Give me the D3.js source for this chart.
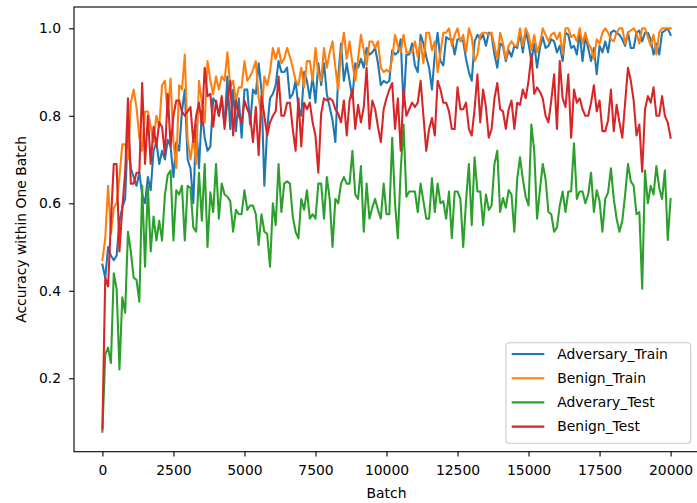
<!DOCTYPE html>
<html>
<head>
<meta charset="utf-8">
<script src="https://cdn.jsdelivr.net/npm/d3@7"></script>
<style>
  html, body { margin: 0; padding: 0; background: #fff; }
  svg { display: block; font-family: "DejaVu Sans", sans-serif; }
</style>
</head>
<body>
<svg id="chart" width="697" height="503"></svg>
<script>
// ---- data ----
const batchStep = 100;
const seriesNames = ["Adversary_Train", "Benign_Train", "Adverary_Test", "Benign_Test"];
const seriesColors = ["#1f77b4", "#ff7f0e", "#2ca02c", "#d62728"];
const xTicks = [0, 2500, 5000, 7500, 10000, 12500, 15000, 17500, 20000];
const yTicks = [0.2, 0.4, 0.6, 0.8, 1.0];

const adversaryTrain = [
  0.46, 0.43, 0.50, 0.48, 0.47, 0.48, 0.56, 0.59, 0.61, 0.77, 0.68, 0.66, 0.64, 0.67, 0.62, 0.60, 0.66, 0.63, 0.72, 0.74, 0.69, 0.72, 0.70, 0.745, 0.73, 0.66, 0.74, 0.72, 0.81, 0.86,
  0.70, 0.68, 0.60, 0.78, 0.68, 0.81, 0.75, 0.72, 0.73, 0.84, 0.83, 0.80, 0.84, 0.78, 0.89, 0.77, 0.86, 0.765, 0.84, 0.75, 0.86, 0.86, 0.78, 0.86, 0.85, 0.92, 0.86, 0.64, 0.77, 0.84, 0.85, 0.87, 0.925, 0.90, 0.90,
  0.91, 0.84, 0.85, 0.88, 0.82, 0.80, 0.90, 0.88, 0.84, 0.89, 0.83, 0.92, 0.87, 0.92, 0.85, 0.82, 0.79, 0.74, 0.89, 0.965, 0.88, 0.92, 0.88, 0.84, 0.92, 0.91, 0.93, 0.91, 0.955, 0.94, 0.945, 0.955, 0.92, 0.87, 0.88,
  0.875, 0.88, 0.95, 0.94, 0.945, 0.975, 0.82, 0.94, 0.94, 0.965, 0.915, 0.90, 0.985, 0.965, 0.935, 0.91, 0.86, 0.94, 0.99, 0.925, 0.915, 0.98, 0.975, 0.975, 0.94, 0.975, 0.975, 0.97, 0.93, 0.90, 0.88, 0.97, 0.985, 0.975,
  0.985, 0.96, 0.99, 0.985, 0.94, 0.91, 0.965, 0.96, 0.925, 0.95, 0.935, 0.96, 0.955, 0.99, 0.945, 0.995, 0.965, 0.925, 0.965, 0.91, 0.955, 0.98, 0.955, 0.96, 0.975, 0.97, 0.945, 0.96, 0.925, 0.99, 0.985, 0.955, 0.96, 0.94,
  0.99, 0.925, 0.98, 0.955, 0.925, 0.955, 0.895, 0.96, 0.945, 0.97, 0.945, 0.99, 0.995, 0.99, 0.985, 0.975, 0.96, 0.99, 0.955, 0.955, 0.99, 0.995, 0.97, 0.99, 0.99, 0.975, 0.94, 0.965, 0.94, 0.99, 0.995, 1.0, 0.985
];

const benignTrain = [
  0.47, 0.52, 0.64, 0.53, 0.59, 0.60, 0.66, 0.735, 0.735, 0.70, 0.83, 0.86, 0.82, 0.75, 0.72, 0.81, 0.81, 0.775, 0.74, 0.80, 0.775, 0.87, 0.88, 0.80, 0.885, 0.74, 0.68, 0.87, 0.86, 0.94,
  0.745, 0.70, 0.75, 0.69, 0.88, 0.83, 0.785, 0.925, 0.88, 0.85, 0.89, 0.86, 0.89, 0.88, 0.945, 0.865, 0.88, 0.835, 0.865, 0.865, 0.925, 0.88, 0.89, 0.905, 0.925, 0.84, 0.80, 0.89, 0.87, 0.90, 0.955, 0.93, 0.955, 0.92, 0.93,
  0.955, 0.935, 0.91, 0.88, 0.87, 0.91, 0.865, 0.925, 0.925, 0.88, 0.955, 0.895, 0.88, 0.955, 0.91, 0.945, 0.97, 0.91, 0.86, 0.945, 0.99, 0.93, 0.97, 0.92, 0.88, 0.93, 0.985, 0.95, 0.915, 0.97, 0.97, 0.955, 0.97, 0.91, 0.90,
  0.905, 0.90, 0.93, 0.985, 0.96, 0.945, 0.985, 0.945, 0.945, 0.945, 0.97, 0.935, 0.97, 0.92, 0.99, 0.99, 0.95, 0.97, 0.90, 0.945, 0.99, 0.99, 1.0, 0.96, 0.985, 1.0, 0.97, 0.985, 0.945, 1.0, 0.98, 0.925, 0.94, 0.985,
  0.99, 0.99, 0.985, 0.99, 0.96, 0.93, 0.99, 0.965, 0.93, 0.96, 0.97, 0.96, 0.96, 1.0, 0.96, 1.0, 0.985, 0.95, 0.985, 0.945, 0.965, 1.0, 0.985, 0.97, 0.985, 0.99, 0.975, 0.99, 0.94, 1.0, 1.0, 0.98, 0.985, 0.97,
  1.0, 0.965, 0.99, 0.965, 0.955, 0.93, 0.975, 0.965, 0.99, 1.0, 0.99, 0.975, 0.97, 0.99, 1.0, 1.0, 0.965, 0.99, 0.995, 1.0, 0.99, 0.965, 1.0, 1.0, 0.98, 0.96, 0.985, 0.94, 0.99, 1.0, 1.0, 1.0, 1.0
];

const adveraryTest = [
  0.078, 0.255, 0.27, 0.235, 0.44, 0.405, 0.22, 0.385, 0.35, 0.535, 0.49, 0.43, 0.425, 0.375, 0.64, 0.455, 0.64, 0.49, 0.57, 0.515, 0.56, 0.515, 0.62, 0.665, 0.675, 0.515, 0.63, 0.62, 0.64, 0.515, 0.64, 0.635, 0.545, 0.535, 0.67, 0.56,
  0.69, 0.50, 0.625, 0.58, 0.69, 0.565, 0.645, 0.62, 0.615, 0.605, 0.535, 0.585, 0.575, 0.575, 0.63, 0.585, 0.595, 0.595, 0.575, 0.505, 0.575, 0.535, 0.53, 0.455, 0.60, 0.55, 0.69, 0.58, 0.645,
  0.65, 0.645, 0.57, 0.535, 0.52, 0.61, 0.585, 0.63, 0.565, 0.575, 0.565, 0.645, 0.645, 0.565, 0.66, 0.61, 0.50, 0.61, 0.60, 0.645, 0.66, 0.645, 0.645, 0.72, 0.62, 0.61, 0.685, 0.535, 0.645, 0.565, 0.59, 0.61, 0.585, 0.565, 0.645,
  0.575, 0.575, 0.75, 0.60, 0.52, 0.675, 0.78, 0.615, 0.627, 0.627, 0.627, 0.58, 0.645, 0.605, 0.565, 0.565, 0.657, 0.58, 0.645, 0.60, 0.605, 0.565, 0.627, 0.52, 0.627, 0.627, 0.61, 0.50, 0.605, 0.69, 0.55, 0.705, 0.627, 0.627,
  0.55, 0.62, 0.585, 0.595, 0.69, 0.72, 0.58, 0.612, 0.59, 0.63, 0.62, 0.535, 0.655, 0.705, 0.655, 0.615, 0.595, 0.78, 0.72, 0.565, 0.63, 0.69, 0.655, 0.58, 0.575, 0.535, 0.545, 0.595, 0.627, 0.58, 0.627, 0.627, 0.737, 0.61, 0.627,
  0.627, 0.60, 0.62, 0.67, 0.58, 0.63, 0.605, 0.535, 0.61, 0.625, 0.68, 0.61, 0.565, 0.535, 0.56, 0.62, 0.69, 0.65, 0.64, 0.575, 0.58, 0.405, 0.675, 0.60, 0.64, 0.62, 0.685, 0.635, 0.61, 0.675, 0.516, 0.61
];

const benignTest = [
  0.085, 0.43, 0.41, 0.56, 0.69, 0.69, 0.49, 0.59, 0.67, 0.84, 0.645, 0.645, 0.67, 0.67, 0.875, 0.69, 0.80, 0.69, 0.775, 0.73, 0.785, 0.775, 0.71, 0.85, 0.73, 0.80, 0.835, 0.835,
  0.81, 0.80, 0.81, 0.82, 0.74, 0.80, 0.83, 0.78, 0.91, 0.845, 0.85, 0.775, 0.835, 0.80, 0.845, 0.77, 0.835, 0.88, 0.755, 0.835, 0.80, 0.785, 0.835, 0.815, 0.80, 0.74, 0.82, 0.71, 0.845, 0.80, 0.755, 0.785, 0.80, 0.81, 0.89, 0.80, 0.80,
  0.83, 0.83, 0.77, 0.72, 0.84, 0.73, 0.83, 0.815, 0.83, 0.785, 0.755, 0.67, 0.805, 0.84, 0.835, 0.84, 0.835, 0.815, 0.805, 0.785, 0.835, 0.755, 0.835, 0.86, 0.77, 0.825, 0.785, 0.82, 0.91, 0.77, 0.835, 0.815, 0.775, 0.74, 0.815,
  0.84, 0.86, 0.875, 0.77, 0.84, 0.72, 0.86, 0.80, 0.815, 0.83, 0.82, 0.83, 0.88, 0.80, 0.72, 0.77, 0.795, 0.755, 0.88, 0.86, 0.83, 0.83, 0.81, 0.77, 0.77, 0.865, 0.815, 0.815, 0.83, 0.77, 0.755, 0.815, 0.895, 0.785,
  0.86, 0.82, 0.75, 0.77, 0.84, 0.875, 0.815, 0.81, 0.77, 0.815, 0.835, 0.77, 0.83, 0.825, 0.86, 0.84, 0.88, 0.94, 0.85, 0.865, 0.855, 0.84, 0.80, 0.785, 0.835, 0.895, 0.77, 0.925, 0.84, 0.82, 0.895, 0.75, 0.86, 0.83, 0.84,
  0.815, 0.80, 0.80, 0.83, 0.87, 0.81, 0.835, 0.765, 0.765, 0.79, 0.86, 0.765, 0.825, 0.785, 0.75, 0.83, 0.91, 0.88, 0.835, 0.755, 0.78, 0.672, 0.815, 0.845, 0.83, 0.865, 0.80, 0.80, 0.845, 0.80, 0.785, 0.75
];

const seriesValues = [adversaryTrain, benignTrain, adveraryTest, benignTest];

// ---- layout ----
const W = 697, H = 503;
const plot = { left: 74, top: 7, right: 699, bottom: 451.7 };
const svg = d3.select("#chart");

const x = d3.scaleLinear().domain([-1000, 21000]).range([plot.left, plot.right]);
const y = d3.scaleLinear().domain([0.0322, 1.0487]).range([plot.bottom, plot.top]);

const textColor = "#000";
const fontSize = 13.9;

// lines
const line = d3.line()
  .x((d, i) => x(i * batchStep))
  .y(d => y(d));

const lineG = svg.append("g");
seriesValues.forEach((vals, k) => {
  lineG.append("path")
    .datum(vals)
    .attr("fill", "none")
    .attr("stroke", seriesColors[k])
    .attr("stroke-width", 2.08)
    .attr("stroke-linejoin", "round")
    .attr("stroke-linecap", "square")
    .attr("d", line);
});

// axes
const xAxis = d3.axisBottom(x).tickValues(xTicks).tickFormat(d3.format("d"))
  .tickSizeOuter(0).tickSizeInner(4.9).tickPadding(8.5);
const yAxis = d3.axisLeft(y).tickValues(yTicks).tickFormat(d3.format(".1f"))
  .tickSizeOuter(0).tickSizeInner(4.9).tickPadding(8);

const gx = svg.append("g").attr("transform", `translate(0,${plot.bottom})`).call(xAxis);
const gy = svg.append("g").attr("transform", `translate(${plot.left},0)`).call(yAxis);
[gx, gy].forEach(g => {
  g.select(".domain").remove();
  g.selectAll(".tick line").attr("stroke", textColor).attr("stroke-width", 1.1);
  g.selectAll(".tick text").attr("fill", textColor)
    .style("font-family", "DejaVu Sans").style("font-size", fontSize + "px");
});

// spines
svg.append("rect")
  .attr("x", plot.left).attr("y", plot.top)
  .attr("width", plot.right - plot.left).attr("height", plot.bottom - plot.top)
  .attr("fill", "none").attr("stroke", textColor).attr("stroke-width", 1.1);

// axis labels
svg.append("text")
  .attr("x", (plot.left + plot.right) / 2).attr("y", 498)
  .attr("text-anchor", "middle").attr("fill", textColor)
  .style("font-size", fontSize + "px").text("Batch");

svg.append("text")
  .attr("transform", `translate(25.5,${(plot.top + plot.bottom) / 2}) rotate(-90)`)
  .attr("text-anchor", "middle").attr("fill", textColor)
  .style("font-size", fontSize + "px").text("Accuracy within One Batch");

// legend
const leg = svg.append("g");
leg.append("rect")
  .attr("x", 506).attr("y", 342.7).attr("width", 184.7).attr("height", 100.6)
  .attr("rx", 3).attr("ry", 3)
  .attr("fill", "#fff").attr("fill-opacity", 0.8)
  .attr("stroke", "#cccccc").attr("stroke-width", 1.1);
seriesNames.forEach((name, k) => {
  const ry = 354 + k * 24.2;
  leg.append("line")
    .attr("x1", 511.7).attr("x2", 544.3).attr("y1", ry).attr("y2", ry)
    .attr("stroke", seriesColors[k]).attr("stroke-width", 2.08);
  leg.append("text")
    .attr("x", 557.3).attr("y", ry).attr("dy", "0.35em")
    .attr("fill", textColor).style("font-size", fontSize + "px").text(name);
});
</script>
</body>
</html>
